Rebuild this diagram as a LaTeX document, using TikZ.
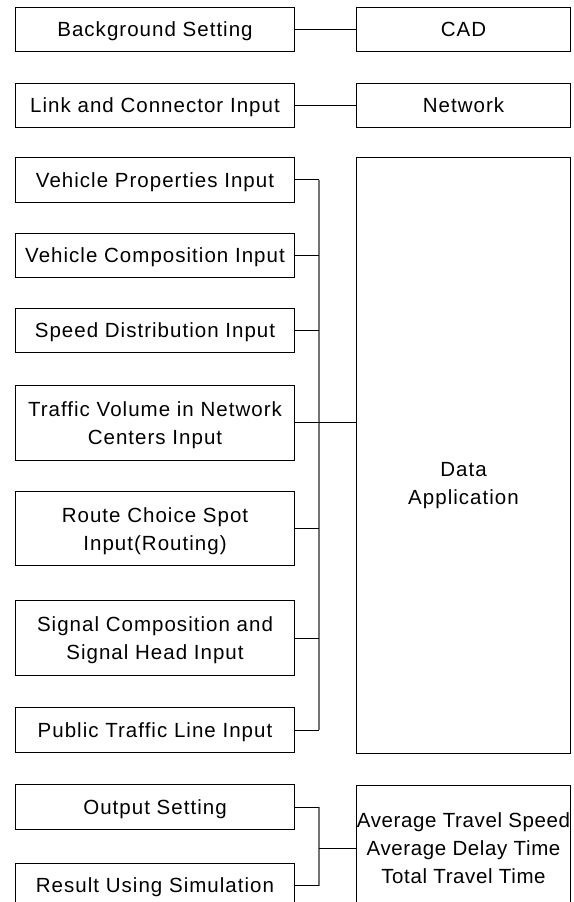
\documentclass[tikz,border=0pt]{standalone}
\usepackage{fontspec}
\setmainfont{Liberation Sans}[LetterSpace=5]
\usetikzlibrary{positioning}
\tikzset{every node/.style={font=\fontsize{20.5}{28}\selectfont, inner sep=0pt, align=center,
                            text height=14.7pt, text depth=0pt},
         twoline/.style={text height=42.7pt},
         threeline/.style={text height=70.7pt},
         lbox/.style={draw, line width=1pt, minimum width=278.6pt, minimum height=44.3pt},
         rbox/.style={draw, line width=1pt, minimum width=214.4pt, minimum height=44.3pt},
         tall/.style={twoline, minimum height=74.2pt},
         link/.style={black, line width=1pt},
         busline/.style={black!55, line width=1.1pt}}

\begin{document}
\begin{tikzpicture}[x=1pt,y=-1pt]
   \useasboundingbox (0,0) rectangle (573,902);
   % left column
   \node[lbox]      (bg)     at (155, 29.5)  {Background Setting};
   \node[lbox]      (lnk)    at (155,105.6)  {Link and Connector Input};
   \node[lbox]      (vprop)  at (155,179.9)  {Vehicle Properties Input};
   \node[lbox]      (vcomp)  at (155,255.3)  {Vehicle Composition Input};
   \node[lbox]      (speed)  at (155,330.5)  {Speed Distribution Input};
   \node[lbox,tall] (volume) at (155,422.9)  {Traffic Volume in Network\\Centers Input};
   \node[lbox,tall] (route)  at (155,528.7)  {Route Choice Spot\\Input(Routing)};
   \node[lbox,tall] (signal) at (155,638.0)  {Signal Composition and\\Signal Head Input};
   \node[lbox]      (public) at (155,730.0)  {Public Traffic Line Input};
   \node[lbox]      (output) at (155,807.0)  {Output Setting};
   \node[lbox]      (result) at (155,885.5)  {Result Using Simulation};
   % right column
   \node[rbox] (cad) at (463.5, 29.5) {CAD};
   \node[rbox] (net) at (463.5,105.6) {Network};
   \node[rbox, minimum height=595.6pt] (data) at (463.5,455.5) {};
   \node[twoline] (datatext) at ([yshift=-28pt]data.center) {Data\\Application};
   \node[rbox, threeline, minimum height=125pt, font=\fontsize{20.5}{28}\selectfont\addfontfeatures{LetterSpace=3}]
        (avg) at (463.5,848.3)
        {Average Travel Speed\\Average Delay Time\\Total Travel Time};

   \coordinate (bus) at (319,0);

   \draw[link] (bg.east) -- (cad.west);
   \draw[link] (lnk.east) -- (net.west);

   \draw[busline] (vprop.east -| bus) -- (public.east -| bus);
   \foreach \n in {vprop,vcomp,speed,route,signal,public}
     \draw[link] (\n.east) -- (\n.east -| bus);
   \draw[link] (volume.east) -- (volume.east -| data.west);

   \draw[busline] (output.east -| bus) -- (result.east -| bus);
   \draw[link] (output.east) -- (output.east -| bus);
   \draw[link] (result.east) -- (result.east -| bus);
   \draw[link] (avg.west -| bus) -- (avg.west);
\end{tikzpicture}
\end{document}
